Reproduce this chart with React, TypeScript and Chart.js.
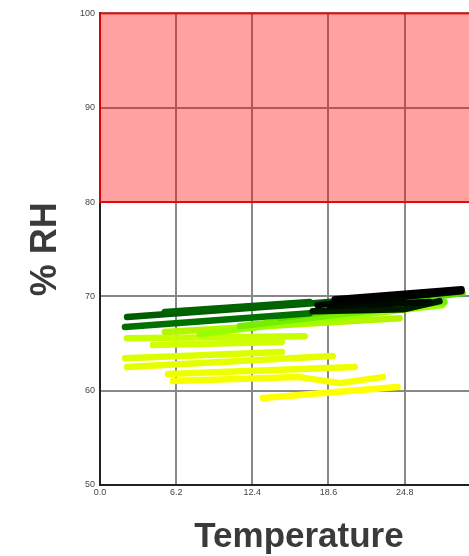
import React, { useEffect, useRef } from "react";
import { Chart, registerables } from "chart.js";

Chart.register(...registerables);

// Axis settings / tick labels
const xTickValues = [0, 6.2, 12.4, 18.6, 24.8, 31.0];
const yTickValues = [50, 60, 70, 80, 90, 100];
const xAxisTitle = "Temperature";
const yAxisTitle = "% RH";

// Alarm zone (% RH)
const zoneMin = 80;
const zoneMax = 100;

// Stripes of logged readings: temperature / humidity along each run
const stripeTemps: number[][] = [
  [13.25, 24.23],
  [5.93, 16.26, 19.51, 23.01],
  [5.53, 20.73],
  [2.2, 18.94],
  [2.03, 14.8],
  [4.31, 14.8],
  [2.2, 16.67],
  [5.28, 17.48, 24.39],
  [8.13, 27.89],
  [11.38, 28.05],
  [14.63, 29.51],
  [2.03, 17.07],
  [2.2, 16.26, 26.83],
  [5.28, 17.07],
  [17.32, 24.8, 27.64],
  [18.7, 26.83],
  [17.72, 29.43],
  [19.11, 29.43],
];

const stripeRH: number[][] = [
  [59.22, 60.38],
  [61.02, 61.44, 60.8, 61.44],
  [61.76, 62.5],
  [62.5, 63.67],
  [63.45, 64.09],
  [64.83, 65.15],
  [65.57, 65.78],
  [66.21, 67.16, 67.69],
  [66.0, 69.07],
  [66.84, 69.39],
  [67.69, 70.34],
  [66.74, 68.22],
  [67.8, 69.17, 70.23],
  [68.33, 69.39],
  [68.43, 68.64, 69.49],
  [68.96, 69.39],
  [69.07, 70.55],
  [69.7, 70.76],
];

const stripeColors = [
  "#ffff00",
  "#f6ff00",
  "#eeff00",
  "#e6ff00",
  "#dcff00",
  "#d2ff00",
  "#c8ff00",
  "#b4f500",
  "#99ff00",
  "#77ee00",
  "#55e000",
  "#007000",
  "#005c00",
  "#006400",
  "#001a00",
  "#000a00",
  "#000500",
  "#000000",
];

const dangerZone = {
  id: "dangerZone",
  beforeDatasetsDraw(chart: any) {
    const { ctx, chartArea, scales } = chart;
    const y = scales.y;
    const top = y.getPixelForValue(zoneMax);
    const bottom = y.getPixelForValue(zoneMin);
    ctx.save();
    ctx.fillStyle = "rgba(255,0,0,0.37)";
    ctx.fillRect(chartArea.left, top, chartArea.right - chartArea.left, bottom - top);
    ctx.strokeStyle = "rgba(235,0,0,0.9)";
    ctx.lineWidth = 2;
    ctx.strokeRect(chartArea.left, top, chartArea.right - chartArea.left, bottom - top);
    ctx.restore();
  },
};

export default function App() {
  const ref = useRef<HTMLCanvasElement | null>(null);

  useEffect(() => {
    document.body.style.overflow = "hidden";
    document.documentElement.style.overflow = "hidden";
    if (!ref.current) return;
    // later stripes (darker, more recent) are drawn on top
    const datasets = stripeTemps.map((temps, i) => ({
      data: temps.map((t, j) => ({ x: t, y: stripeRH[i][j] })),
      showLine: true,
      order: stripeTemps.length - i,
      borderColor: stripeColors[i],
      backgroundColor: stripeColors[i],
      borderWidth: 6.5,
      borderCapStyle: "round",
      borderJoinStyle: "round",
      pointRadius: 0,
      tension: 0,
      fill: false,
    }));

    const tickFont = { family: "'Liberation Sans', Arial, sans-serif", size: 9 };
    const titleFont = {
      family: "'Liberation Sans', Arial, sans-serif",
      size: 35,
      weight: "bold",
      lineHeight: 1,
    };

    const chart = new Chart(ref.current, {
      type: "scatter",
      data: { datasets } as any,
      plugins: [dangerZone],
      options: {
        animation: false,
        responsive: false,
        devicePixelRatio: 1,
        layout: { padding: 0 },
        plugins: { legend: { display: false }, tooltip: { enabled: false } },
        scales: {
          x: {
            type: "linear",
            min: 0,
            max: 32.4,
            afterBuildTicks: (scale: any) => {
              scale.ticks = xTickValues.map((v) => ({ value: v }));
            },
            afterFit: (scale: any) => {
              scale.height = 71;
            },
            ticks: {
              font: tickFont,
              color: "#444",
              padding: 2,
              maxRotation: 0,
              callback: (v: any) => Number(v).toFixed(1),
            },
            grid: { color: "#888", lineWidth: 2, drawTicks: false },
            border: { color: "#222", width: 2 },
            title: {
              display: true,
              text: xAxisTitle,
              font: titleFont,
              color: "#3a3a3a",
              padding: { top: 0, bottom: 1 },
            },
          },
          y: {
            type: "linear",
            min: 50,
            max: 100,
            afterBuildTicks: (scale: any) => {
              scale.ticks = yTickValues.map((v) => ({ value: v }));
            },
            afterFit: (scale: any) => {
              scale.width = 92;
            },
            ticks: { font: tickFont, color: "#444", padding: 5 },
            grid: { color: "#888", lineWidth: 2, drawTicks: false },
            border: { color: "#222", width: 2 },
            title: {
              display: true,
              text: yAxisTitle,
              font: { ...titleFont, size: 36 },
              color: "#3a3a3a",
              padding: { top: 20, bottom: 0 },
            },
          },
        },
      } as any,
    });
    return () => chart.destroy();
  }, []);

  return (
    <div
      style={{
        position: "fixed",
        left: 8,
        top: 10,
        width: 461,
        height: 546,
        overflow: "hidden",
      }}
    >
      <canvas
        ref={ref}
        width={490}
        height={553}
        style={{ width: 490, height: 553, display: "block", marginTop: -7 }}
      />
    </div>
  );
}
